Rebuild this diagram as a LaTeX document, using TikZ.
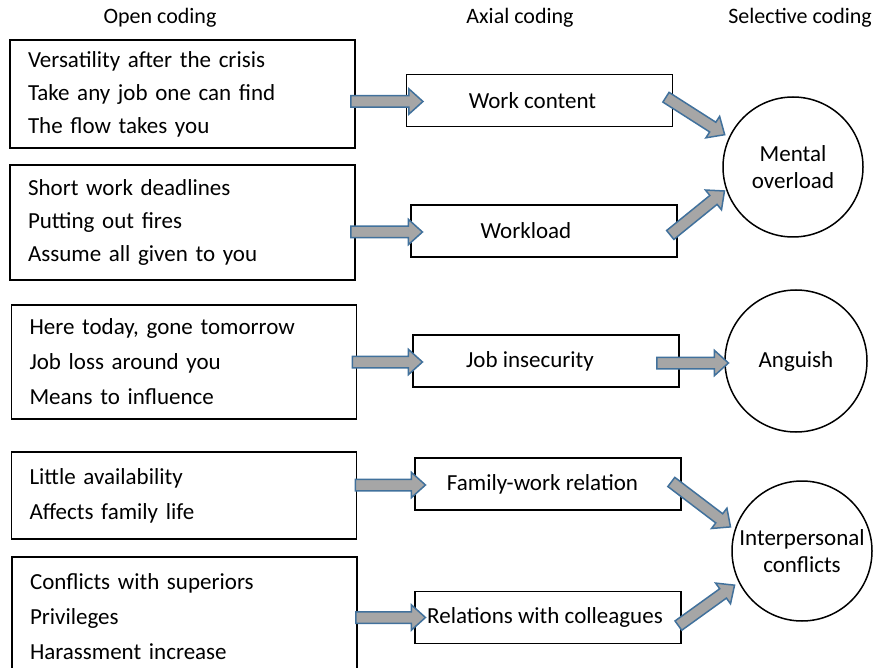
\documentclass[tikz,border=0pt]{standalone}
\usepackage{fontspec}
\setmainfont{Carlito}
\usetikzlibrary{positioning,calc,shapes.arrows}

\definecolor{arrowgray}{RGB}{166,166,166}
\definecolor{arrowblue}{RGB}{65,113,156}

\tikzset{
  openbox/.style={draw, line width=1.5pt, align=left, text width=309pt, inner xsep=18pt, font=\fontsize{23}{33}\selectfont},
  axialbox/.style={draw, line width=1.5pt, minimum width=266pt, minimum height=52pt, font=\fontsize{23}{26}\selectfont},
  codecircle/.style={draw, circle, line width=1.5pt, minimum size=140pt, inner sep=0pt, align=center, font=\fontsize{23}{27}\selectfont},
  heading/.style={font=\fontsize{22}{24}\selectfont},
  blockarrow/.style={single arrow, draw=arrowblue, fill=arrowgray, line width=1.5pt, inner sep=5pt, single arrow head extend=7pt, single arrow tip angle=84}
}

% block arrow from one point to another
\newcommand{\flowarrow}[3]{%
  \path let \p1=($(#3)-(#2)$), \n1={atan2(\y1,\x1)}, \n2={veclen(\x1,\y1)} in
    ($(#2)!0.5!(#3)$) node[blockarrow, minimum height=\n2, rotate=\n1] (#1) {};}

\begin{document}
\begin{tikzpicture}[x=1pt, y=-1pt]
\useasboundingbox (0,0) rectangle (878,668);
\clip (0,0) rectangle (878,668);

% column titles
\node[heading] (hopen) at (160,18) {Open coding};
\node[heading] (haxial) at (520,18) {Axial coding};
\node[heading] (hselect) at (800,18) {Selective coding};

% open coding
\node[openbox, minimum height=108pt] (o1) at (182.5,94) {Versatility after the crisis\\Take any job one can find\\The flow takes you};
\node[openbox, minimum height=115pt] (o2) at (182.5,222.5) {Short work deadlines\\Putting out fires\\Assume all given to you};
\node[openbox, minimum height=114pt, font=\fontsize{23}{35}\selectfont] (o3) at (184,362) {Here today, gone tomorrow\\Job loss around you\\Means to influence};
\node[openbox, minimum height=87pt, font=\fontsize{23}{35}\selectfont] (o4) at (184,495.5) {Little availability\\Affects family life};
\node[openbox, minimum height=120pt, font=\fontsize{23}{35}\selectfont] (o5) at (184.5,617) {Conflicts with superiors\\Privileges\\Harassment increase};

% axial coding
\node[axialbox] (a1) at (539.5,100.5) {\hspace{-14pt}Work content};
\node[axialbox] (a2) at (544,231) {\hspace{-36pt}Workload};
\node[axialbox] (a3) at (546,361) {\hspace{-32pt}Job insecurity};
\node[axialbox] (a4) at (548,484) {\hspace{-11pt}Family-work relation};
\node[axialbox] (a5) at (548,617.5) {\hspace{-6pt}Relations with colleagues};

% selective coding
\node[codecircle] (mental) at (793,167) {Mental\\overload};
\node[codecircle, minimum size=142pt] (anguish) at (796,361) {Anguish};
\node[codecircle] (conflicts) at (802,551) {Interpersonal\\conflicts};

% open -> axial
\flowarrow{f1}{$(o1.east |- a1.west)+(-8,1)$}{$(a1.west)+(14,1)$}
\flowarrow{f2}{$(o2.east |- a2.west)+(-8,1)$}{$(a2.west)+(9,1)$}
\flowarrow{f3}{$(o3.east |- a3.west)+(-8,1)$}{$(a3.west)+(7,1)$}
\flowarrow{f4}{$(o4.east |- a4.west)+(-5,1)$}{$(a4.west)+(8,1)$}
\flowarrow{f5}{$(o5.east |- a5.west)+(-5,0)$}{$(a5.west)+(8,0)$}

% axial -> selective
\flowarrow{s1}{$(a1.east)+(-10,-5)$}{$(mental.center)+(-71,-34)$}
\flowarrow{s2}{$(a2.east)+(-10,6)$}{$(mental.center)+(-71,26)$}
\flowarrow{s3}{$(a3.east)+(-26,2)$}{$(anguish.west)+(1,2)$}
\flowarrow{s4}{$(a4.east)+(-13,-4)$}{$(conflicts.center)+(-74,-26)$}
\flowarrow{s5}{$(a5.east)+(-6,10)$}{$(conflicts.center)+(-70,36)$}
\end{tikzpicture}
\end{document}
